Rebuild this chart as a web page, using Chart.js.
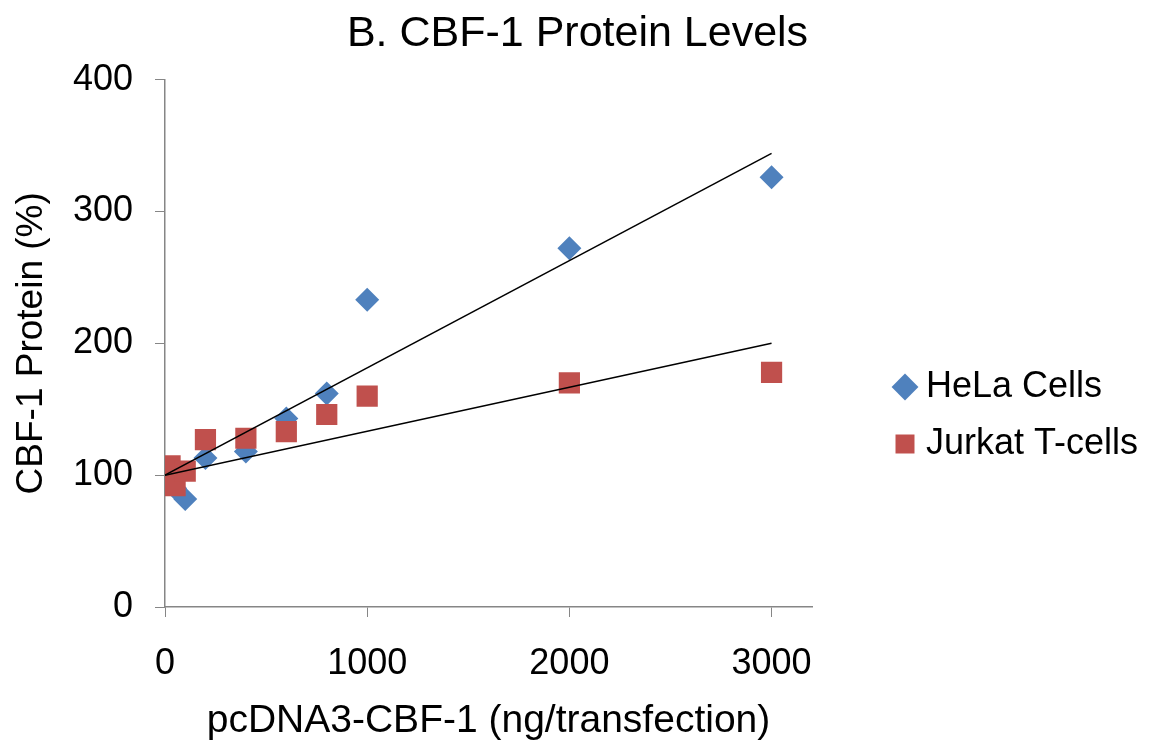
<!DOCTYPE html>
<html>
<head>
<meta charset="utf-8">
<script src="https://cdn.jsdelivr.net/npm/chart.js@4.4.1/dist/chart.umd.min.js"></script>
<style>
  html, body { margin: 0; padding: 0; background: #fff; }
  #wrap { width: 1155px; height: 749px; }
</style>
</head>
<body>
<div id="wrap"><canvas id="c" width="1155" height="749"></canvas></div>
<script>
// doses (ng/transfection)
const doses = [0, 25, 50, 100, 200, 400, 600, 800, 1000, 2000, 3000];
const helaValues = [100, 95, 90, 82, 113, 118, 143, 162, 233, 272, 326];
const jurkatValues = [100, 107, 92, 103, 127, 128, 133, 146, 160, 170, 178];
const seriesNames = ["HeLa Cells", "Jurkat T-cells"];
const xTicks = [0, 1000, 2000, 3000];
const yTicks = [0, 100, 200, 300, 400];

// linear trendline with intercept fixed at 100
function trend(xs, ys) {
  let num = 0, den = 0;
  xs.forEach((x, i) => { num += x * (ys[i] - 100); den += x * x; });
  const slope = num / den;
  return [{ x: 0, y: 100 }, { x: 3000, y: 100 + slope * 3000 }];
}

const pts = (ys) => doses.map((x, i) => ({ x: x, y: ys[i] }));

const font = "'Liberation Sans', Arial, sans-serif";

// legend sits to the right of a fixed-width plot area
const legendPlace = {
  id: 'legendPlace',
  beforeUpdate(chart) {
    const lg = chart.legend;
    if (lg && !lg._patched) {
      const fit = lg.fit;
      lg.fit = function () { fit.call(this); this.width = 343; };
      lg._patched = true;
    }
  },
  afterLayout(chart) {
    const lg = chart.legend;
    lg.left = 881; lg.right = 1155; lg.width = 274;
    lg.top += 41; lg.bottom += 41;
  }
};

new Chart(document.getElementById("c"), {
  type: 'scatter',
  data: {
    datasets: [
      {
        label: seriesNames[0],
        data: pts(helaValues),
        pointStyle: 'rectRot',
        pointRadius: 12,
        backgroundColor: '#4F81BD',
        borderColor: '#4F81BD',
        borderWidth: 0,
        order: 2
      },
      {
        label: seriesNames[1],
        data: pts(jurkatValues),
        pointStyle: 'rect',
        pointRadius: 15,
        backgroundColor: '#C0504D',
        borderColor: '#C0504D',
        borderWidth: 0,
        order: 1
      },
      {
        label: 'trend1',
        type: 'line',
        data: trend(doses, helaValues),
        borderColor: '#000',
        borderWidth: 1.5,
        pointRadius: 0,
        order: 0
      },
      {
        label: 'trend2',
        type: 'line',
        data: trend(doses, jurkatValues),
        borderColor: '#000',
        borderWidth: 1.5,
        pointRadius: 0,
        order: 0
      }
    ]
  },
  plugins: [legendPlace],
  options: {
    responsive: false,
    animation: false,
    layout: { padding: 0 },
    plugins: {
      title: {
        display: true,
        text: 'B. CBF-1 Protein Levels',
        color: '#000',
        font: { family: font, size: 43, weight: 'normal' },
        padding: { top: 8, bottom: 20 }
      },
      legend: {
        position: 'right',
        labels: {
          color: '#000',
          font: { family: font, size: 36 },
          usePointStyle: true,
          boxWidth: 6,
          boxHeight: 19,
          padding: 21,
          sort: (a, b) => a.datasetIndex - b.datasetIndex,
          filter: (item) => seriesNames.includes(item.text)
        }
      },
      tooltip: { enabled: false }
    },
    scales: {
      x: {
        type: 'linear',
        min: 0,
        max: 3200,
        afterBuildTicks: (s) => { s.ticks = xTicks.map(v => ({ value: v })); },
        afterFit: (s) => { s.height = 142; },
        title: {
          display: true,
          text: 'pcDNA3-CBF-1 (ng/transfection)',
          color: '#000',
          font: { family: font, size: 39 },
          padding: { top: 6 }
        },
        ticks: {
          color: '#000',
          font: { family: font, size: 36 },
          padding: 25,
          callback: (v) => String(v)
        },
        grid: { drawOnChartArea: false, drawTicks: true, tickLength: 10, color: '#868686' },
        border: { color: '#868686', width: 1.5 }
      },
      y: {
        min: 0,
        max: 400,
        afterBuildTicks: (s) => { s.ticks = yTicks.map(v => ({ value: v })); },
        afterFit: (s) => { s.width = 165; },
        title: {
          display: true,
          text: 'CBF-1 Protein (%)',
          color: '#000',
          font: { family: font, size: 37 },
          padding: { top: 10, bottom: 4 }
        },
        ticks: {
          color: '#000',
          font: { family: font, size: 36 },
          padding: 22,
          callback: (v) => String(v)
        },
        grid: { drawOnChartArea: false, drawTicks: true, tickLength: 10, color: '#868686' },
        border: { color: '#868686', width: 1.5 }
      }
    }
  }
});
</script>
</body>
</html>
